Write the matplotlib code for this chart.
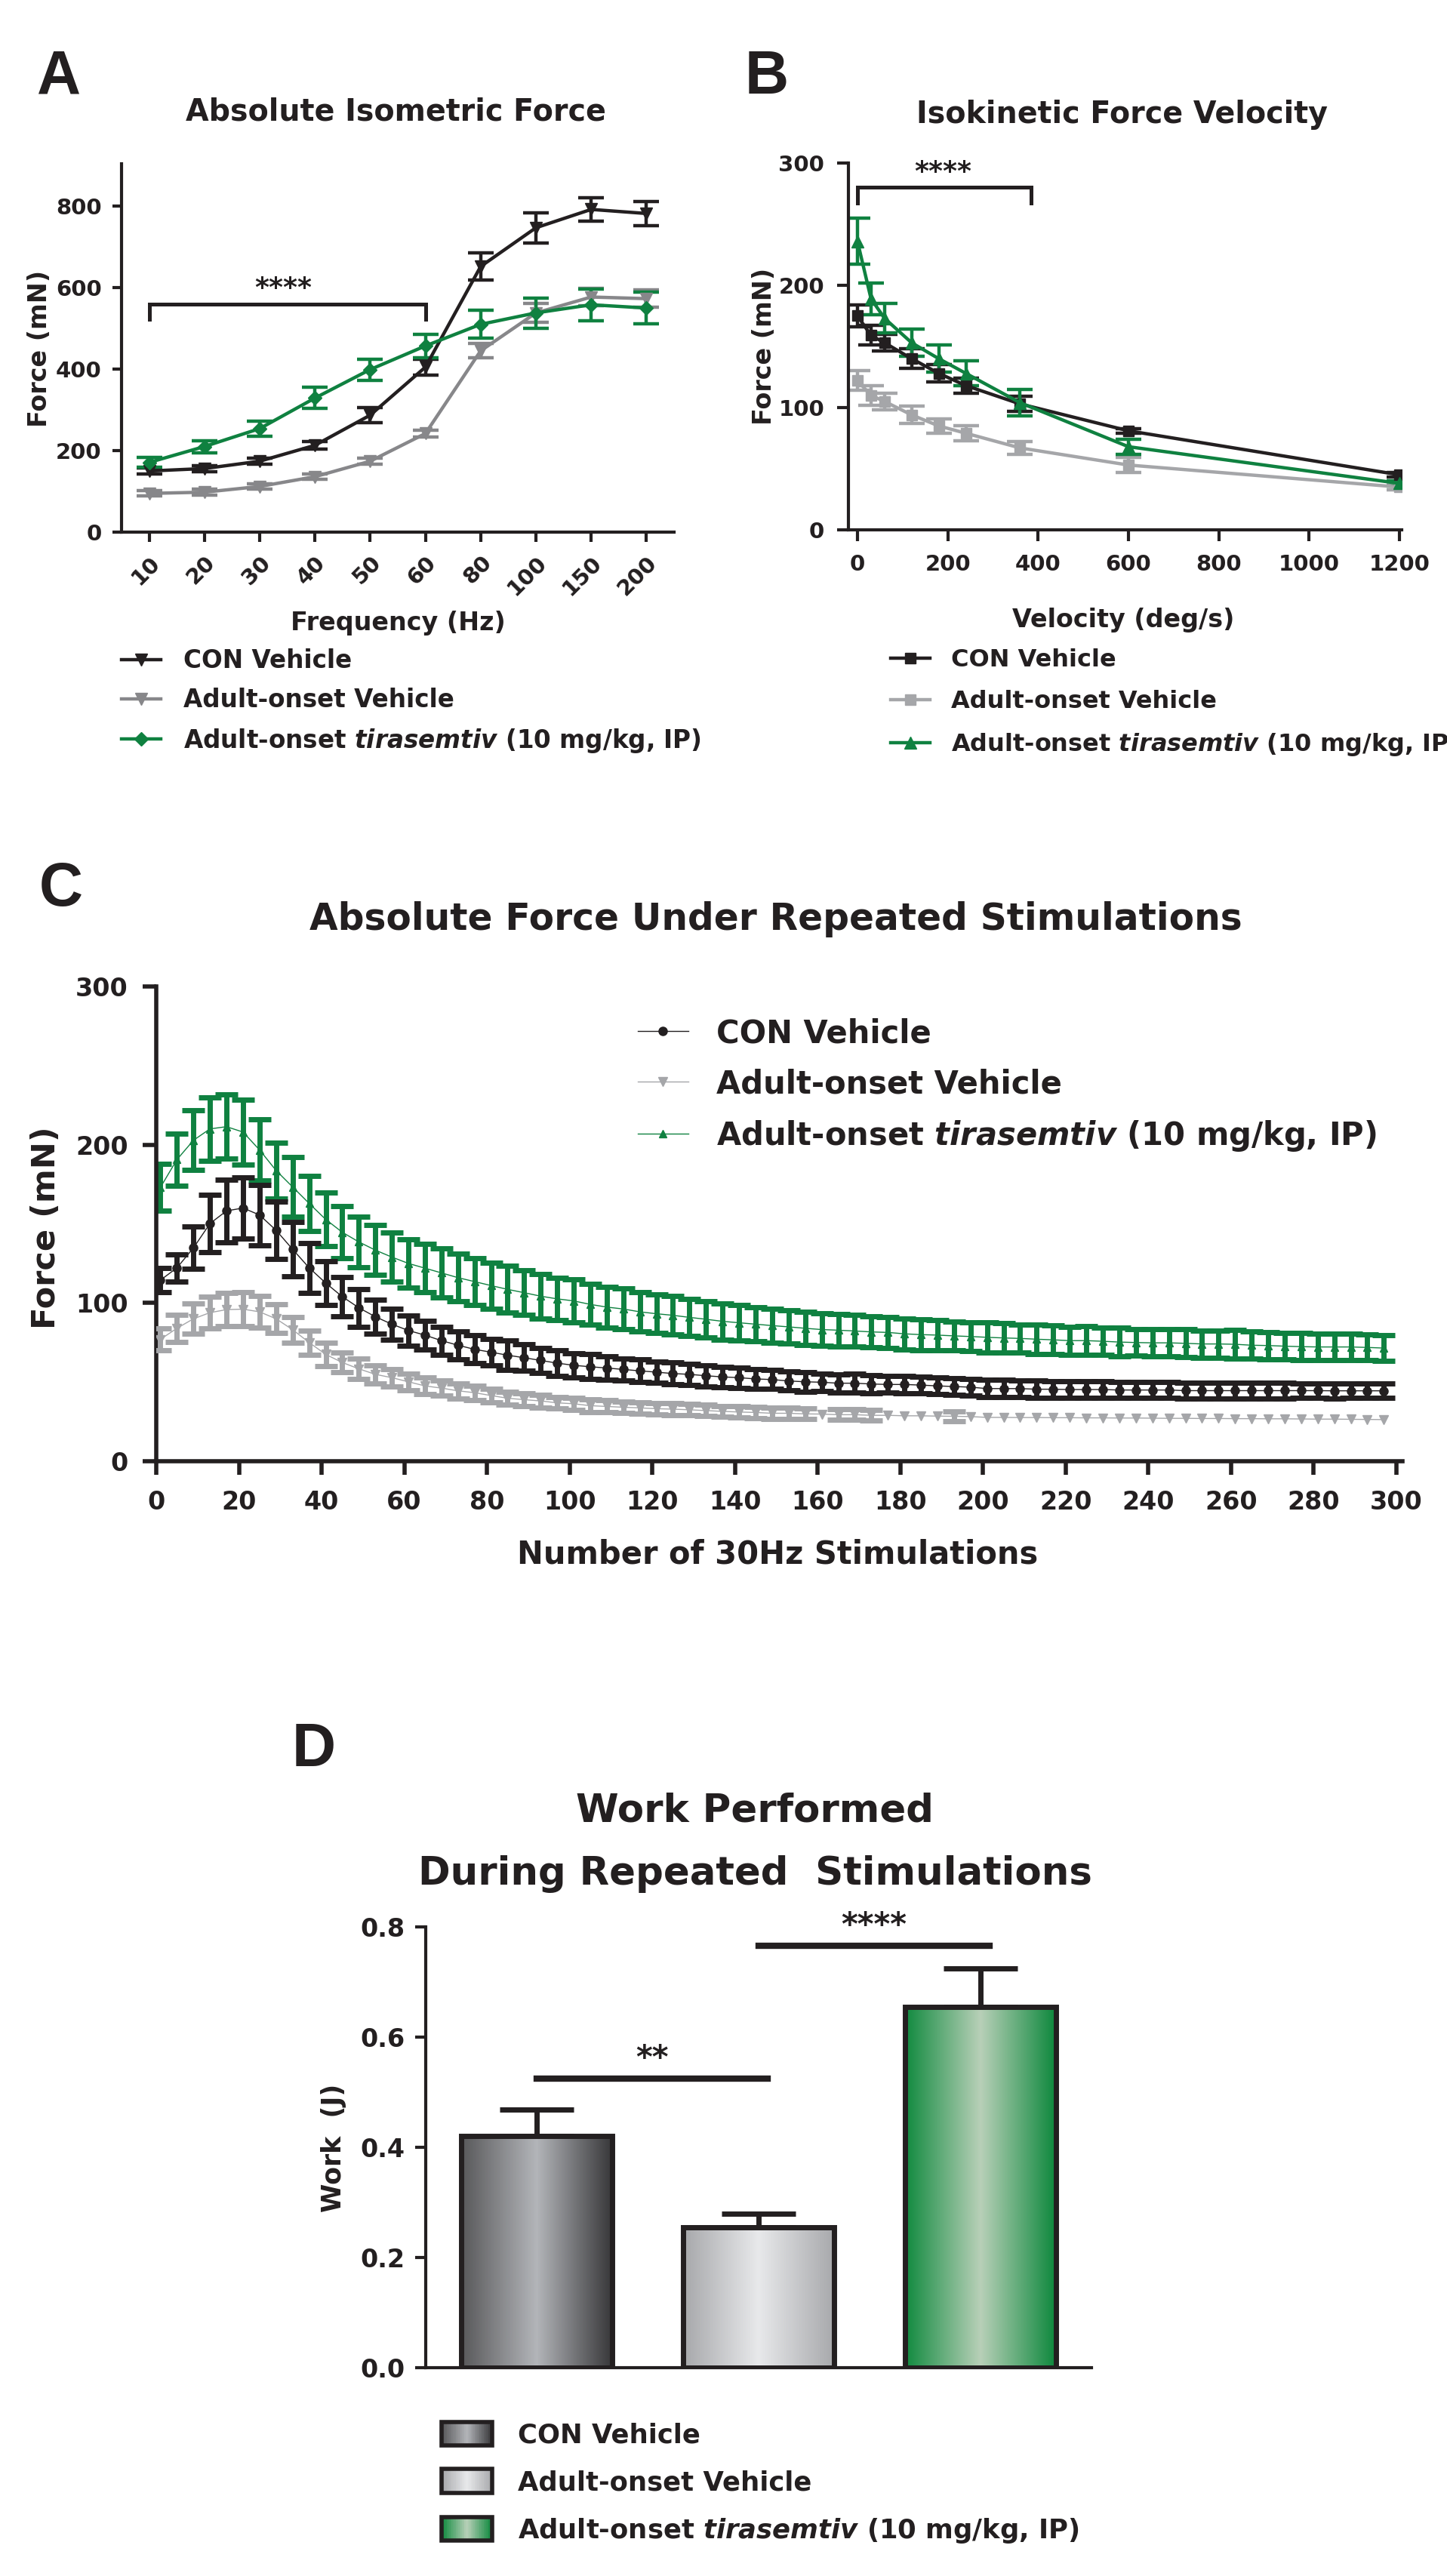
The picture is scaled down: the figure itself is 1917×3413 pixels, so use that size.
import numpy as np
import matplotlib
matplotlib.use("Agg")
import matplotlib.pyplot as plt
from matplotlib.colors import LinearSegmentedColormap
from matplotlib.legend_handler import HandlerBase
from matplotlib.patches import Rectangle

# ---- data -----------------------------------------------------------------
freq_labels = ["10", "20", "30", "40", "50", "60", "80", "100", "150", "200"]
a_con = [150, 156, 174, 213, 287, 405, 652, 747, 792, 782]
a_con_err = [7, 7, 7, 10, 18, 20, 33, 37, 29, 29]
a_veh = [95, 98, 112, 136, 174, 242, 445, 538, 577, 573]
a_veh_err = [7, 7, 7, 7, 7, 9, 18, 23, 21, 21]
a_tir = [171, 210, 254, 329, 399, 457, 510, 538, 558, 550]
a_tir_err = [12, 15, 18, 26, 26, 29, 34, 37, 39, 39]
a_sig_span = [0, 5]          # bracket from 10 Hz to 60 Hz
a_sig_level = 559

velocity = [0, 30, 60, 120, 180, 240, 360, 600, 1200]
b_con = [175, 159, 153, 140, 128, 118, 103, 81, 45]
b_con_err = [9, 8, 7, 8, 7, 6, 6, 2, 2]
b_veh = [122, 110, 105, 94, 85, 79, 67, 53, 35]
b_veh_err = [8, 8, 7, 7, 6, 6, 5, 6, 2]
b_tir = [236, 189, 173, 153, 140, 128, 104, 68, 38]
b_tir_err = [19, 13, 12, 11, 11, 10, 11, 6, 2]
b_sig_span = [0, 385]
b_sig_level = 280

stim_number = np.arange(1, 298, 4)
c_con = [114.4, 122.2, 134.8, 150.2, 158.2, 160.0, 155.6, 145.9, 133.9, 122.2,
         112.6, 104.0, 97.0, 91.3, 86.6, 82.6, 79.7, 76.2, 73.3, 70.7,
         68.9, 67.0, 65.4, 63.7, 62.0, 60.6, 59.7, 58.9, 58.0, 57.1,
         56.3, 55.4, 54.9, 54.0, 53.3, 52.8, 52.0, 51.6, 50.7, 50.2,
         49.9, 49.3, 49.3, 48.8, 48.5, 48.5, 48.1, 47.6, 47.2, 46.8,
         45.9, 45.9, 45.9, 45.5, 45.5, 45.3, 45.3, 45.3, 45.0, 45.0,
         45.0, 45.0, 44.6, 44.6, 44.6, 44.6, 44.6, 44.6, 44.6, 44.6,
         44.6, 44.5, 44.5, 44.5, 44.5]
c_con_err = [7.8, 8.7, 13.4, 18.2, 19.8, 19.5, 19.0, 18.2, 17.1, 15.8,
             13.9, 12.5, 11.9, 10.7, 9.9, 9.6, 9.0, 8.8, 8.7, 8.9,
             8.5, 9.1, 8.3, 8.0, 8.0, 7.6, 7.8, 7.6, 7.0, 7.2,
             6.8, 6.9, 6.7, 6.7, 6.5, 6.5, 6.1, 6.0, 6.0, 6.1,
             5.6, 5.7, 5.9, 5.7, 5.3, 5.4, 5.3, 5.3, 5.2, 5.3,
             5.4, 5.4, 5.3, 5.3, 5.2, 5.2, 5.1, 5.1, 5.1, 5.0,
             5.0, 5.0, 4.9, 4.9, 4.9, 4.8, 4.8, 4.8, 4.8, 4.7,
             4.7, 4.7, 4.6, 4.6, 4.6]
c_veh = [77.0, 84.0, 90.0, 93.9, 95.8, 96.1, 94.4, 90.0, 83.1, 75.0,
         67.5, 62.4, 58.4, 54.9, 52.8, 50.2, 47.6, 46.2, 44.5, 43.3,
         41.5, 39.8, 38.9, 38.1, 36.9, 36.3, 35.1, 34.6, 34.1, 33.7,
         33.2, 32.9, 32.5, 32.0, 31.5, 31.1, 30.8, 30.3, 30.3, 29.9,
         29.8, 29.4, 29.4, 29.0, 29.0, 28.7, 28.7, 28.5, 28.4, 28.2,
         27.7, 27.7, 27.6, 27.6, 27.5, 27.5, 27.4, 27.4, 27.3, 27.3,
         27.2, 27.1, 27.1, 27.0, 27.0, 26.9, 26.9, 26.8, 26.8, 26.7,
         26.6, 26.6, 26.5, 26.4, 26.3]
c_veh_err = [6.9, 8.5, 9.5, 10.0, 10.6, 10.6, 9.9, 9.1, 8.0, 7.6,
             7.2, 6.3, 6.3, 5.7, 5.5, 5.3, 5.2, 4.9, 4.7, 4.5,
             4.4, 4.1, 4.1, 4.0, 3.7, 4.0, 3.9, 3.8, 3.8, 3.7,
             3.7, 3.6, 3.6, 3.6, 3.5, 3.5, 3.5, 3.4, 3.4, 3.4,
             1.2, 3.4, 3.3, 3.3, 1.2, 1.1, 1.1, 1.1, 3.2, 1.1,
             1.2, 1.1, 1.1, 1.2, 1.1, 1.0, 1.1, 1.1, 1.0, 1.1,
             1.0, 1.1, 1.0, 1.0, 1.1, 1.0, 1.0, 1.1, 1.0, 1.0,
             1.0, 1.1, 1.0, 1.0, 1.0]
c_tir = [173.0, 190.6, 202.8, 210.0, 211.4, 208.0, 196.7, 183.7, 173.3, 162.9,
         152.8, 144.7, 138.6, 133.4, 129.0, 125.0, 122.0, 119.0, 116.0, 113.5,
         111.0, 108.6, 106.5, 104.3, 102.6, 101.3, 99.1, 97.4, 96.2, 94.4,
         93.2, 92.2, 90.9, 89.7, 88.4, 87.5, 86.6, 85.7, 84.9, 84.0,
         83.2, 82.8, 82.3, 81.7, 81.4, 80.5, 80.0, 79.7, 79.2, 78.8,
         78.3, 77.9, 77.6, 77.1, 76.7, 76.2, 76.2, 75.8, 75.3, 75.0,
         74.8, 74.8, 74.5, 74.1, 74.1, 73.9, 73.3, 73.1, 72.7, 72.4,
         72.2, 72.2, 72.2, 71.9, 71.5]
c_tir_err = [14.8, 16.3, 18.8, 20.1, 20.3, 20.5, 19.5, 17.7, 18.7, 17.5,
             17.1, 16.5, 16.1, 15.8, 15.7, 15.1, 15.4, 15.4, 15.0, 15.0,
             14.6, 14.8, 14.1, 14.1, 13.5, 13.5, 13.0, 12.8, 12.8, 12.4,
             12.0, 12.1, 11.5, 11.5, 11.4, 11.1, 10.9, 10.6, 10.4, 10.4,
             10.2, 10.3, 10.0, 9.8, 9.9, 9.8, 9.8, 9.7, 9.1, 9.1,
             9.4, 9.3, 8.9, 9.2, 9.2, 8.9, 9.1, 8.7, 8.9, 8.4,
             8.5, 8.7, 8.8, 8.6, 8.6, 8.9, 8.6, 8.5, 8.5, 8.6,
             8.2, 8.5, 8.2, 8.2, 8.3]

groups = ["CON Vehicle", "Adult-onset Vehicle",
          "Adult-onset $\\mathit{tirasemtiv}$ (10 mg/kg, IP)"]
work = [0.42, 0.255, 0.655]
work_err = [0.049, 0.025, 0.069]
d_sig_pairs = [(0, 1, 0.525, "**"), (1, 2, 0.766, "****")]

# ---- style ----------------------------------------------------------------
BLACK = "#231f20"
GREEN = "#0f8140"
GRAY_A = "#87878a"
GRAY_B = "#a5a6a9"

plt.rcParams["font.family"] = "DejaVu Sans"
plt.rcParams["font.weight"] = "bold"
plt.rcParams["axes.labelweight"] = "bold"
plt.rcParams["mathtext.fontset"] = "custom"
plt.rcParams["mathtext.it"] = "DejaVu Sans:italic:bold"
plt.rcParams["mathtext.rm"] = "DejaVu Sans:bold"
plt.rcParams["text.color"] = BLACK

W, H = 1917, 3413
fig = plt.figure(figsize=(W / 100, H / 100), dpi=100)


def rect(left, top, right, bottom):
    return [left / W, 1 - bottom / H, (right - left) / W, (bottom - top) / H]


def put(x, y, s, **kw):
    fig.text(x / W, 1 - y / H, s, **kw)


def style_axes(ax, lw, ticklen, labelsize, pad):
    for side in ["top", "right"]:
        ax.spines[side].set_visible(False)
    for side in ["left", "bottom"]:
        ax.spines[side].set_linewidth(lw)
        ax.spines[side].set_color(BLACK)
    ax.tick_params(width=lw, length=ticklen, labelsize=labelsize,
                   color=BLACK, labelcolor=BLACK, pad=pad)


def panel_letter(x, y, s):
    put(x, y, s, fontsize=58, fontweight="heavy",
        family=["Liberation Sans Narrow", "Liberation Sans"], va="baseline")


def legend_at(ax, handles, left, top, fs, **kw):
    return ax.legend(handles, groups, loc="upper left",
                     bbox_to_anchor=(left / W, 1 - top / H),
                     bbox_transform=fig.transFigure, frameon=False, fontsize=fs,
                     borderpad=0, borderaxespad=0, **kw)


# ---- A: absolute isometric force -----------------------------------------
axA = fig.add_axes(rect(161, 217, 893, 705))
xA = np.arange(len(freq_labels))
eb_kw = dict(lw=3.2, elinewidth=3.2, capsize=12, capthick=3.2)
hA = []
for vals, errs, col, mk, ms in [(a_veh, a_veh_err, GRAY_A, "v", 12),
                                (a_con, a_con_err, BLACK, "v", 12),
                                (a_tir, a_tir_err, GREEN, "D", 9)]:
    c = axA.errorbar(xA, vals, yerr=errs, color=col, marker=mk, ms=ms, **eb_kw)
    hA.append(c[0])
axA.set_xlim(-0.5, 9.5)
axA.set_ylim(0, 904)
axA.set_yticks([0, 200, 400, 600, 800])
axA.set_xticks(xA)
axA.set_xticklabels(freq_labels, rotation=45, ha="right", rotation_mode="anchor")
style_axes(axA, 3.0, 9, 21, 10)
axA.plot([a_sig_span[0], a_sig_span[0], a_sig_span[1], a_sig_span[1]],
         [a_sig_level - 36, a_sig_level, a_sig_level, a_sig_level - 36],
         color=BLACK, lw=3.6, solid_joinstyle="miter")
axA.text(np.mean(a_sig_span) - 0.07, a_sig_level + 8, "****", ha="center",
         va="bottom", fontsize=26)
legend_at(axA, [hA[1], hA[0], hA[2]], 161, 859, 23.5, handlelength=1.6,
          handletextpad=0.92, labelspacing=0.58, numpoints=1)

put(524, 148, "Absolute Isometric Force", fontsize=28.5, ha="center", va="center")
put(527, 825, "Frequency (Hz)", fontsize=24, ha="center", va="center")
put(52, 462, "Force (mN)", fontsize=24, ha="center", va="center", rotation=90)

# ---- B: isokinetic force velocity ---------------------------------------
axB = fig.add_axes(rect(1124, 216, 1857, 702))
hB = []
for vals, errs, col, mk, ms in [(b_veh, b_veh_err, GRAY_B, "s", 10),
                                (b_con, b_con_err, BLACK, "s", 10),
                                (b_tir, b_tir_err, GREEN, "^", 12)]:
    c = axB.errorbar(velocity, vals, yerr=errs, color=col, marker=mk, ms=ms,
                     **eb_kw)
    hB.append(c[0])
axB.set_xlim(-20, 1205)
axB.set_ylim(0, 300)
axB.set_xticks([0, 200, 400, 600, 800, 1000, 1200])
axB.set_yticks([0, 100, 200, 300])
style_axes(axB, 3.0, 11, 21, 12)
axB.plot([b_sig_span[0], b_sig_span[0], b_sig_span[1], b_sig_span[1]],
         [b_sig_level - 13, b_sig_level, b_sig_level, b_sig_level - 13],
         color=BLACK, lw=3.6, solid_joinstyle="miter")
axB.text(190, b_sig_level + 2, "****", ha="center", va="bottom", fontsize=26)
legend_at(axB, [hB[1], hB[0], hB[2]], 1180, 859, 23, handlelength=1.63,
          handletextpad=0.88, labelspacing=0.75, numpoints=1)

put(1486, 152, "Isokinetic Force Velocity", fontsize=28.5, ha="center",
    va="center")
put(1488, 821, "Velocity (deg/s)", fontsize=24, ha="center", va="center")
put(1012, 459, "Force (mN)", fontsize=24, ha="center", va="center", rotation=90)

# ---- C: repeated stimulations -------------------------------------------
axC = fig.add_axes(rect(207, 1307, 1858, 1936))
ceb = dict(lw=1.0, elinewidth=5, capsize=10.5, capthick=5)
# GraphPad hides error bars that are shorter than the symbol
veh_err_shown = np.where(np.array(c_veh_err) >= 2, c_veh_err, np.nan)
c1 = axC.errorbar(stim_number, c_tir, yerr=c_tir_err, color=GREEN, marker="^",
                  ms=7, zorder=2, **ceb)
c2 = axC.errorbar(stim_number, c_veh, yerr=veh_err_shown, color=GRAY_B,
                  marker="v", ms=9, zorder=3, **ceb)
c3 = axC.errorbar(stim_number, c_con, yerr=c_con_err, color=BLACK, marker="o",
                  ms=8, zorder=4, **ceb)
axC.set_xlim(0, 301.5)
axC.set_ylim(0, 300)
axC.set_xticks(np.arange(0, 301, 20))
axC.set_yticks([0, 100, 200, 300])
style_axes(axC, 4.0, 13, 24, 14)
legend_at(axC, [c3[0], c2[0], c1[0]], 845, 1348, 30, handlelength=1.6,
          handletextpad=0.9, labelspacing=0.6, numpoints=1)

put(1028, 1218, "Absolute Force Under Repeated Stimulations", fontsize=35,
    ha="center", va="center")
put(1030, 2059, "Number of 30Hz Stimulations", fontsize=30, ha="center",
    va="center")
put(61, 1627, "Force (mN)", fontsize=31, ha="center", va="center", rotation=90)

# ---- D: work performed ------------------------------------------------------
axD = fig.add_axes(rect(564, 2553, 1446, 3137))
xD = np.arange(len(work))
bar_cmaps = [
    LinearSegmentedColormap.from_list("con", ["#58585a", "#b3b5b9", "#38383a"]),
    LinearSegmentedColormap.from_list("veh", ["#a7a8ab", "#e8e9eb", "#a8a9ac"]),
    LinearSegmentedColormap.from_list("tir", ["#118a3f", "#b8d0b8", "#0e883d"]),
]
bars = axD.bar(xD, work, width=0.68, facecolor="none", edgecolor=BLACK,
               linewidth=5, zorder=3)
ramp = np.linspace(0, 1, 256).reshape(1, -1)
for b, cm in zip(bars, bar_cmaps):
    im = axD.imshow(ramp, cmap=cm, aspect="auto", zorder=2,
                    extent=[b.get_x(), b.get_x() + b.get_width(), 0, b.get_height()])
    im.set_clip_path(b)
axD.errorbar(xD, work, yerr=[np.zeros(len(work)), work_err], fmt="none",
             ecolor=BLACK, elinewidth=5, capsize=35, capthick=5, zorder=1)
for i, j, level, stars in d_sig_pairs:
    axD.plot([i, j + 0.04], [level, level], color=BLACK, lw=6)
    axD.text((i + j) / 2 + 0.02, level + 0.006, stars, ha="center", va="bottom",
             fontsize=30)
axD.set_xlim(-0.5, 2.5)
axD.set_ylim(0, 0.8)
axD.set_xticks([])
axD.set_yticks([0, 0.2, 0.4, 0.6, 0.8])
axD.set_yticklabels([f"{v:.1f}" for v in [0, 0.2, 0.4, 0.6, 0.8]])
style_axes(axD, 3.0, 10, 24, 10)


class GradientHandler(HandlerBase):
    def __init__(self, cmap):
        super().__init__()
        self.cmap = cmap

    def create_artists(self, legend, orig_handle, xdescent, ydescent, width,
                       height, fontsize, trans):
        n = 40
        arts = []
        for k in range(n):
            arts.append(Rectangle((-xdescent + width * k / n, -ydescent),
                                  width / n + 0.3, height,
                                  facecolor=self.cmap(k / (n - 1)),
                                  edgecolor="none", transform=trans))
        arts.append(Rectangle((-xdescent, -ydescent), width, height,
                              facecolor="none", edgecolor=BLACK, lw=4,
                              transform=trans))
        return arts


legend_at(axD, list(bars), 585, 3209, 25.5,
          handler_map={b: GradientHandler(cm) for b, cm in zip(bars, bar_cmaps)},
          handlelength=1.9, handleheight=0.98, handletextpad=0.95,
          labelspacing=0.78)

put(1000, 2400, "Work Performed", fontsize=37, ha="center", va="center")
put(1000, 2483, "During Repeated  Stimulations", fontsize=37, ha="center",
    va="center")
put(442, 2846, "Work  (J)", fontsize=25, ha="center", va="center", rotation=90)

for x, y, s in [(49, 124, "A"), (987, 124, "B"), (52, 1200, "C"), (387, 2340, "D")]:
    panel_letter(x, y, s)

fig.savefig("out.png", dpi=100)
